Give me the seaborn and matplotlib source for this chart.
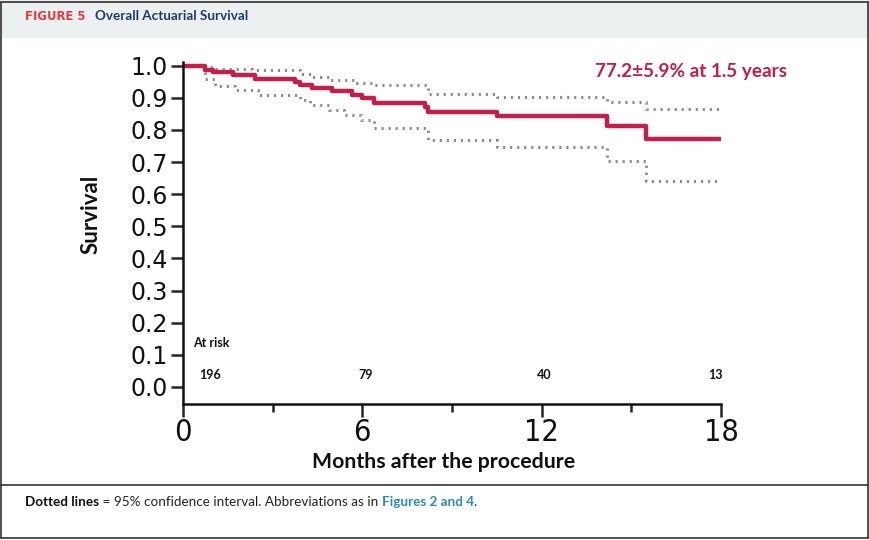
import matplotlib
matplotlib.use("Agg")
import matplotlib.pyplot as plt
import seaborn as sns
import pandas as pd
from matplotlib.patches import Rectangle
from matplotlib.lines import Line2D

# ---- data (months, survival) ----
km_time = [0, 0.74, 1.0, 1.67, 2.4, 3.75, 3.9, 4.3, 5.0, 5.65, 6.0, 6.4, 8.1, 8.2, 10.5, 14.2, 15.5, 18.0]
km_surv = [1.0, 0.987, 0.98, 0.97, 0.96, 0.95, 0.94, 0.93, 0.92, 0.91, 0.90, 0.885, 0.87, 0.857, 0.842, 0.811, 0.773, 0.773]

upper_time = [0, 0.74, 1.0, 2.3, 3.9, 4.3, 4.9, 5.75, 6.4, 8.2, 10.5, 14.2, 15.5, 18.0]
upper_surv = [1.0, 0.995, 0.99, 0.985, 0.975, 0.965, 0.956, 0.945, 0.94, 0.911, 0.904, 0.886, 0.866, 0.866]

lower_time = [0, 0.74, 1.07, 1.75, 2.5, 3.9, 4.25, 4.9, 5.4, 5.95, 6.4, 8.2, 10.5, 14.2, 15.5, 18.0]
lower_surv = [1.0, 0.957, 0.937, 0.925, 0.909, 0.894, 0.878, 0.863, 0.847, 0.832, 0.806, 0.77, 0.746, 0.703, 0.641, 0.641]

risk_months = [0.9, 6.1, 12.1, 17.8]
at_risk = ["196", "79", "40", "13"]
x_ticks = [0, 6, 12, 18]
x_minor = [3, 9, 15]
y_ticks = [0.0, 0.1, 0.2, 0.3, 0.4, 0.5, 0.6, 0.7, 0.8, 0.9, 1.0]

RED = "#C41E4B"
GRAY = "#8C8C8C"
NAVY = "#1B3A6B"

sns.set_theme(style="white")
plt.rcParams["font.family"] = ["DejaVu Sans"]

W, H = 870, 540
fig = plt.figure(figsize=(8.7, 5.4), dpi=100)

def fy(py):
    return 1 - py / H

def fx(px):
    return px / W

# header band and frames
fig.add_artist(Rectangle((0, fy(38)), 1, 1 - fy(38), transform=fig.transFigure,
                         facecolor="#EDF0F1", edgecolor="none", zorder=0))
for (x0, y0, x1, y1) in [(fx(1.5), fy(1.5), fx(868.5), fy(1.5)),
                         (fx(1.5), fy(1.5), fx(1.5), fy(538)),
                         (fx(868.5), fy(1.5), fx(868.5), fy(538)),
                         (fx(1.5), fy(538), fx(868.5), fy(538)),
                         (fx(1.5), fy(485), fx(868.5), fy(485))]:
    fig.add_artist(Line2D([x0, x1], [y0, y1], transform=fig.transFigure,
                          color="#333333", lw=1.2, zorder=5))

# axes
ax_left, ax_right = 183, 721
ax_bottom_px, ax_top_px = 404, 61.8
ax_h = ax_bottom_px - ax_top_px
ax_w = ax_right - ax_left
ax = fig.add_axes([fx(ax_left), fy(ax_bottom_px), ax_w / W, ax_h / H])
ax.set_facecolor("white")

df_km = pd.DataFrame({"t": km_time, "s": km_surv})
df_up = pd.DataFrame({"t": upper_time, "s": upper_surv})
df_lo = pd.DataFrame({"t": lower_time, "s": lower_surv})

for d in (df_up, df_lo):
    sns.lineplot(data=d, x="t", y="s", ax=ax, estimator=None, drawstyle="steps-post",
                 color=GRAY, lw=2.2, linestyle=(0, (0.7, 1.6)))
sns.lineplot(data=df_km, x="t", y="s", ax=ax, estimator=None, drawstyle="steps-post",
             color=RED, lw=3.2)

ax.set_xlim(0, 18)
ax.set_ylim(-0.053, 1.012)
ax.set_xticks(x_ticks)
ax.set_xticks(x_minor, minor=True)
ax.set_yticks(y_ticks)
ax.set_yticklabels([f"{v:.1f}" for v in y_ticks], fontsize=17, color="#111111")
ax.set_xticklabels([str(v) for v in x_ticks], fontsize=22, color="#111111",
                   family=["DejaVu Sans"], fontstretch="condensed")
ax.tick_params(axis="x", which="major", direction="out", length=9, width=1.8, pad=1,
               bottom=True)
ax.tick_params(axis="x", which="minor", direction="out", length=6, width=1.8, bottom=True)
ax.tick_params(axis="y", which="major", direction="out", length=9, width=1.8, pad=2, left=True)
for s in ("top", "right"):
    ax.spines[s].set_visible(False)
for s in ("left", "bottom"):
    ax.spines[s].set_color("#111111")
    ax.spines[s].set_linewidth(1.8)

ax.set_xlabel("Months after the procedure", fontsize=15.3, fontweight="bold",
              family=["Lato", "DejaVu Sans"], color="#111111")
ax.xaxis.set_label_coords((444 - ax_left) / ax_w, (ax_bottom_px - 462) / ax_h)
ax.xaxis.label.set_va("center")
ax.set_ylabel("Survival", fontsize=16, fontweight="bold",
              family=["Lato", "DejaVu Sans"], color="#111111")
ax.yaxis.set_label_coords((91 - ax_left) / ax_w, (ax_bottom_px - 214) / ax_h)
ax.yaxis.label.set_va("center")

ax.text(0.33, 0.137, "At risk", fontsize=9, fontweight="bold",
        family=["Lato", "DejaVu Sans"], color="#111111", va="center", ha="left")
for m, n in zip(risk_months, at_risk):
    ax.text(m, 0.037, n, fontsize=9, fontweight="bold", family=["Lato", "DejaVu Sans"],
            color="#111111", va="center", ha="center")

fig.text(fx(787), fy(71), "77.2±5.9% at 1.5 years", fontsize=13.6, fontweight="bold",
         family=["Lato", "DejaVu Sans"], color=RED, ha="right", va="center")

# header text
fig.canvas.draw()
r = fig.canvas.get_renderer()
t1 = fig.text(fx(25), fy(16), "FIGURE 5", fontsize=8.4, fontweight="bold",
              family=["DejaVu Sans"], color="#E23B3F", va="center", ha="left")
bb = t1.get_window_extent(r)
fig.text(bb.x1 / W + fx(10), fy(16), "Overall Actuarial Survival", fontsize=9.7,
         fontweight="bold", family=["Lato", "DejaVu Sans"], color=NAVY,
         va="center", ha="left")

# caption
parts = [("Dotted lines", "bold", "#111111"),
         (" = 95% confidence interval. Abbreviations as in ", "normal", "#222222"),
         ("Figures 2 and 4", "bold", "#2A8BB9"),
         (".", "normal", "#222222")]
xf = fx(25)
for txt, wgt, col in parts:
    t = fig.text(xf, fy(502), txt, fontsize=9.7, fontweight=wgt,
                 family=["Lato", "DejaVu Sans"], color=col, va="center", ha="left")
    xf = t.get_window_extent(r).x1 / W

fig.savefig("out.png", dpi=100)
